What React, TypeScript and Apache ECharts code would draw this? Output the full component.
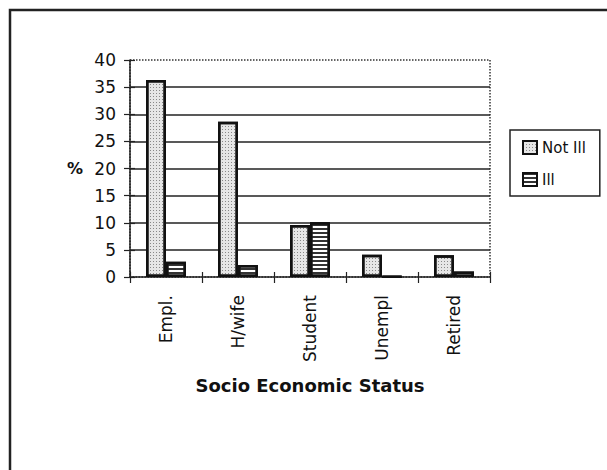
import React, { useEffect, useRef } from "react";
import * as echarts from "echarts";

const categories = ["Empl.", "H/wife", "Student", "Unempl", "Retired"];
const notIll = [36.3, 28.6, 9.6, 4.1, 4.0];
const ill = [2.8, 2.2, 10.1, 0.1, 1.0];
const seriesNames = ["Not Ill", "Ill"];
const yTitle = "%";
const xTitle = "Socio Economic Status";

export default function App() {
  const ref = useRef<HTMLDivElement>(null);
  useEffect(() => {
    document.body.style.margin = "0";
    const chart = echarts.init(ref.current!, null, { renderer: "svg" });
    const font = "'DejaVu Sans', sans-serif";
    const yBase = {
      type: "value",
      min: 0,
      max: 40,
      interval: 5,
    };
    const dots = {
      symbol: "rect",
      symbolSize: 1,
      dashArrayX: [1, 2],
      dashArrayY: [1, 2],
      color: "#888",
    };
    const stripes = {
      symbol: "rect",
      symbolSize: 1,
      dashArrayX: [1, 0],
      dashArrayY: [2, 2],
      color: "#333",
    };
    chart.setOption({
      animation: false,
      backgroundColor: "#ffffff",
      grid: {
        left: 130,
        right: 117,
        top: 60,
        bottom: 193,
        show: true,
        borderColor: "#333",
        borderWidth: 1.5,
        borderType: "dotted",
        backgroundColor: "#fff",
      },
      legend: {
        orient: "vertical",
        left: 510,
        top: 130,
        padding: [10, 14, 9, 12],
        itemGap: 17,
        itemWidth: 14,
        itemHeight: 13,
        icon: "rect",
        borderColor: "#222",
        borderWidth: 1.5,
        textStyle: { fontFamily: font, fontSize: 15, color: "#111" },
        data: seriesNames,
      },
      xAxis: [
        {
          type: "category",
          data: categories,
          position: "bottom",
          axisLine: { lineStyle: { color: "#222", width: 1.5 } },
          axisTick: { show: true, length: 6, lineStyle: { color: "#222", width: 1.2 } },
          axisLabel: {
            rotate: 90,
            margin: 18,
            fontFamily: font,
            fontSize: 17,
            color: "#111",
          },
          name: xTitle,
          nameLocation: "middle",
          nameGap: 99,
          nameTextStyle: { fontFamily: font, fontSize: 18, fontWeight: "bold", color: "#111" },
        },
        {
          type: "category",
          data: categories,
          position: "bottom",
          axisLine: { show: false },
          axisTick: { show: true, inside: true, length: 5, lineStyle: { color: "#222", width: 1.2 } },
          axisLabel: { show: false },
        },
      ],
      yAxis: [
        {
          ...yBase,
          axisLine: { show: true, lineStyle: { color: "#222", width: 1.5 } },
          axisTick: { show: true, length: 6, lineStyle: { color: "#222", width: 1.2 } },
          axisLabel: { margin: 14, fontFamily: font, fontSize: 17, color: "#111" },
          splitLine: {
            show: true,
            lineStyle: {
              color: ["transparent", "#222", "#222", "#222", "#222", "#222", "#222", "#222", "transparent"],
              width: 1.5,
            },
          },
          name: yTitle,
          nameLocation: "middle",
          nameRotate: 0,
          nameGap: 47,
          nameTextStyle: { fontFamily: font, fontSize: 16, fontWeight: "bold", color: "#111" },
        },
        {
          ...yBase,
          position: "left",
          axisLine: { show: false },
          axisTick: { show: true, inside: true, length: 5, lineStyle: { color: "#222", width: 1.2 } },
          axisLabel: { show: false },
          splitLine: { show: false },
        },
      ],
      series: [
        {
          name: seriesNames[0],
          type: "bar",
          data: notIll,
          barWidth: 20,
          barGap: "0%",
          itemStyle: {
            color: "#e6e6e6",
            borderColor: "#111",
            borderWidth: 2.5,
            decal: dots,
          },
        },
        {
          name: seriesNames[1],
          type: "bar",
          data: ill,
          barWidth: 20,
          itemStyle: {
            color: "#ffffff",
            borderColor: "#111",
            borderWidth: 2.5,
            decal: stripes,
          },
        },
      ],
      graphic: [
        {
          type: "rect",
          shape: { x: 10, y: 10, width: 620, height: 480 },
          style: { fill: "none", stroke: "#222", lineWidth: 2.5 },
          silent: true,
        },
      ],
    });
    return () => chart.dispose();
  }, []);
  return (
    <div
      ref={ref}
      style={{ position: "fixed", left: 0, top: 0, width: 607, height: 470 }}
    />
  );
}
